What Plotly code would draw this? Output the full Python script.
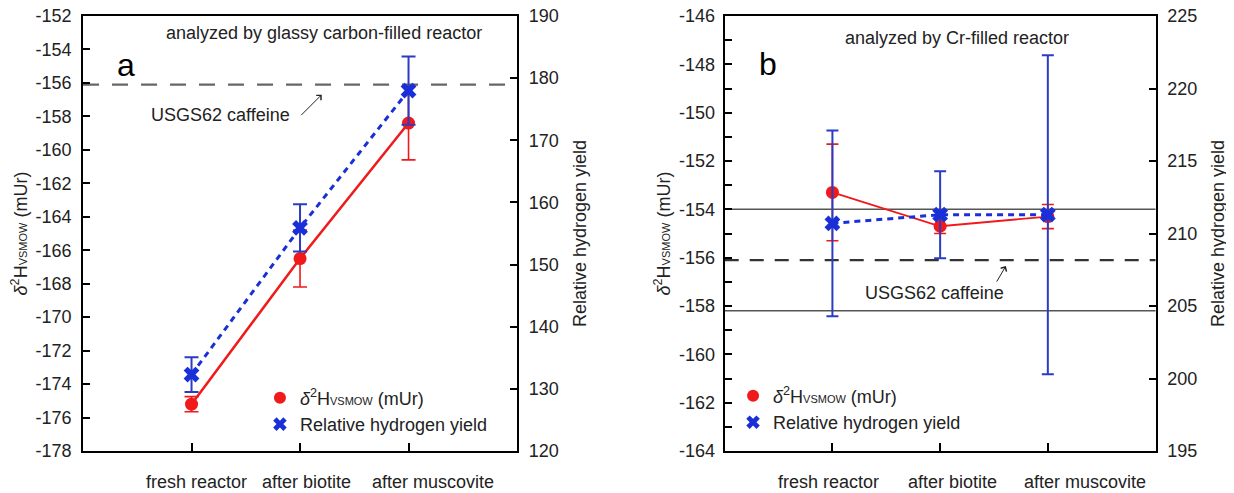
import plotly.graph_objects as go

# ---------------- data ----------------
categories = ["fresh reactor", "after biotite", "after muscovite"]

# panel a: glassy carbon-filled reactor
a_delta = [-175.2, -166.5, -158.4]
a_delta_err = [0.45, 1.7, 2.2]
a_yield = [132.3, 155.9, 178.0]
a_yield_err = [2.8, 3.8, 5.5]

# panel b: Cr-filled reactor
b_delta = [-153.3, -154.7, -154.3]
b_delta_err = [2.0, 0.3, 0.5]
b_yield = [210.7, 211.3, 211.3]
b_yield_err = [6.4, 3.0, 11.0]

usgs62 = -156.1            # USGS62 caffeine reference value
b_band = [-154.0, -158.2]  # solid reference lines in panel b

# tick labels (hyphen-minus as in the original)
a_left_ticks = [-178, -176, -174, -172, -170, -168, -166, -164, -162, -160, -158, -156, -154, -152]
a_left_labels = [str(v) for v in a_left_ticks]
b_left_ticks = [-164, -163, -162, -161, -160, -159, -158, -157, -156, -155, -154,
                -153, -152, -151, -150, -149, -148, -147, -146]
b_left_labels = [str(v) if v % 2 == 0 else "" for v in b_left_ticks]

# ---------------- style ----------------
FONT = "Liberation Sans, Arial, sans-serif"
FS = 18
RED = "#f01a1a"
BLUE = "#1a2fd8"
BLUE_ERR = "#2a3cc4"
TXT = "#222222"

DELTA_TITLE = "<i>δ</i><sup>2</sup>H<span style='font-size:11px'>VSMOW</span> (mUr)"

fig = go.Figure()

def add_panel(xa, ya_l, ya_r, delta, delta_err, yld, yld_err, legend, red_w, cap):
    fig.add_trace(go.Scatter(x=categories, y=delta, mode="lines", xaxis=xa, yaxis=ya_l,
                             line=dict(color=RED, width=red_w), showlegend=False, hoverinfo="skip"))
    fig.add_trace(go.Scatter(x=categories, y=delta, mode="markers", xaxis=xa, yaxis=ya_l,
                             name=DELTA_TITLE, legend=legend,
                             marker=dict(color=RED, size=13, symbol="circle"),
                             error_y=dict(type="data", array=delta_err, color=RED,
                                          thickness=1.6, width=cap)))
    fig.add_trace(go.Scatter(x=categories, y=yld, mode="lines", xaxis=xa, yaxis=ya_r,
                             line=dict(color=BLUE, width=3, dash="6px,5px"),
                             showlegend=False, hoverinfo="skip"))
    fig.add_trace(go.Scatter(x=categories, y=yld, mode="markers", xaxis=xa, yaxis=ya_r,
                             name="Relative hydrogen yield", legend=legend,
                             marker=dict(color=BLUE, size=14, symbol="x",
                                         line=dict(width=0)),
                             error_y=dict(type="data", array=yld_err, color=BLUE_ERR,
                                          thickness=2, width=cap)))

add_panel("x", "y", "y2", a_delta, a_delta_err, a_yield, a_yield_err, "legend", 2.5, 7)
add_panel("x2", "y3", "y4", b_delta, b_delta_err, b_yield, b_yield_err, "legend2", 1.8, 6)

# ---------------- axes ----------------
# page body has an 8px margin, so the figure is 1226x485 and sits at (8, 8)
W, H = 1226, 485
xdom_a = [0.0612, 0.4152]
xdom_b = [0.5846, 0.9360]
ydom = [0.0866, 0.9835]

tickfont = dict(family=FONT, size=FS, color=TXT)
titlefont = dict(family=FONT, size=FS, color=TXT)
common_x = dict(type="category", range=[-1, 3], showline=True, linewidth=2, linecolor="black",
                mirror=True, ticks="inside", ticklen=8, tickwidth=2, tickcolor="black",
                showgrid=False, zeroline=False, showticklabels=False,
                fixedrange=True, automargin=False)
common_y = dict(showline=True, linewidth=2, linecolor="black", ticks="inside", ticklen=7,
                tickwidth=2, tickcolor="black", showgrid=False, zeroline=False,
                tickfont=tickfont, fixedrange=True, automargin=False,
                ticklabeloverflow="allow")

fig.update_layout(
    xaxis=dict(domain=xdom_a, anchor="y", **common_x),
    yaxis=dict(domain=ydom, anchor="x", range=[-178, -152], side="left",
               tickmode="array", tickvals=a_left_ticks, ticktext=a_left_labels,
               ticklabelstandoff=6,
               title=dict(text=DELTA_TITLE, font=titlefont, standoff=4),
               **common_y),
    yaxis2=dict(overlaying="y", anchor="x", side="right", range=[120, 190], dtick=10,
                ticklabelstandoff=6,
                title=dict(text="Relative hydrogen yield", font=titlefont, standoff=16),
                **common_y),
    xaxis2=dict(domain=xdom_b, anchor="y3", **common_x),
    yaxis3=dict(domain=ydom, anchor="x2", range=[-164, -146], side="left",
                tickmode="array", tickvals=b_left_ticks, ticktext=b_left_labels,
                ticklabelstandoff=4,
                title=dict(text=DELTA_TITLE, font=titlefont, standoff=4),
                **common_y),
    yaxis4=dict(overlaying="y3", anchor="x2", side="right", range=[195, 225], dtick=5,
                ticklabelstandoff=6,
                title=dict(text="Relative hydrogen yield", font=titlefont, standoff=15),
                **common_y),
)

# ---------------- reference lines ----------------
shapes = [
    dict(type="line", xref="x domain", yref="y", x0=0, x1=1, y0=usgs62, y1=usgs62,
         line=dict(color="#666666", width=2.2, dash="16px,13px"), layer="below"),
    dict(type="line", xref="x2 domain", yref="y3", x0=0, x1=1, y0=usgs62, y1=usgs62,
         line=dict(color="#333333", width=2.2, dash="14px,11px"), layer="below"),
]
for v in b_band:
    shapes.append(dict(type="line", xref="x2 domain", yref="y3", x0=0, x1=1, y0=v, y1=v,
                       line=dict(color="#555555", width=1.5), layer="below"))

# ---------------- annotations ----------------
tf = dict(family=FONT, size=FS, color=TXT)
annotations = [
    dict(text="analyzed by glassy carbon-filled reactor", xref="x domain", yref="y domain",
         x=0.555, y=0.961, showarrow=False, font=tf, xanchor="center", yanchor="middle"),
    dict(text="a", xref="x domain", yref="y domain", x=0.10, y=0.887, showarrow=False,
         font=dict(family=FONT, size=32, color="black"), xanchor="center", yanchor="middle"),
    dict(text="USGS62 caffeine", xref="x", yref="y", x=0.27, y=-157.92, showarrow=False,
         font=tf, xanchor="center", yanchor="middle"),
    dict(text="", xref="x", yref="y", x=1.2, y=-156.7, ax=-22, ay=22, showarrow=True,
         arrowhead=4, arrowsize=1.3, arrowwidth=1, arrowcolor="#222222"),
    dict(text="analyzed by Cr-filled reactor", xref="x2 domain", yref="y3 domain",
         x=0.539, y=0.95, showarrow=False, font=tf, xanchor="center", yanchor="middle"),
    dict(text="b", xref="x2 domain", yref="y3 domain", x=0.10, y=0.89, showarrow=False,
         font=dict(family=FONT, size=32, color="black"), xanchor="center", yanchor="middle"),
    dict(text="USGS62 caffeine", xref="x2", yref="y3", x=0.944, y=-157.46, showarrow=False,
         font=tf, xanchor="center", yanchor="middle"),
    dict(text="", xref="x2", yref="y3", x=1.61, y=-156.35, ax=-10, ay=17, showarrow=True,
         arrowhead=4, arrowsize=1.3, arrowwidth=1, arrowcolor="#222222"),
]

# category labels under each panel (placed as in the original, slightly off-centre)
label_pos_a = [0.262, 0.516, 0.806]
label_pos_b = [0.240, 0.529, 0.837]
for cat, pa, pb in zip(categories, label_pos_a, label_pos_b):
    annotations.append(dict(text=cat, xref="x domain", yref="paper", x=pa, y=0.0227,
                            showarrow=False, font=tf, xanchor="center", yanchor="middle"))
    annotations.append(dict(text=cat, xref="x2 domain", yref="paper", x=pb, y=0.0227,
                            showarrow=False, font=tf, xanchor="center", yanchor="middle"))

legend_style = dict(font=dict(family=FONT, size=FS, color=TXT), bgcolor="rgba(0,0,0,0)",
                    borderwidth=0, xanchor="left", yanchor="top", tracegroupgap=0,
                    itemsizing="constant")

fig.update_layout(
    width=W, height=H,
    margin=dict(l=0, r=0, t=0, b=0, autoexpand=False),
    paper_bgcolor="white", plot_bgcolor="white",
    font=dict(family=FONT, size=FS, color=TXT),
    shapes=shapes, annotations=annotations,
    legend=dict(x=0.2055, y=0.234, **legend_style),
    legend2=dict(x=0.5914, y=0.238, **legend_style),
    showlegend=True,
)

fig.write_html("out.html")
